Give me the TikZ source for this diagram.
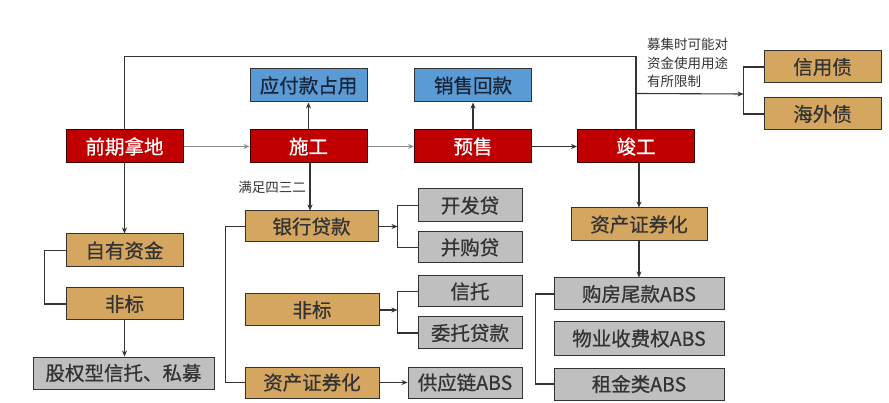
\documentclass[tikz,border=0pt]{standalone}
\usepackage{fontspec}
\setmainfont{Noto Sans CJK SC}
\newfontfamily\boxfont[FakeBold=0.7]{Noto Sans CJK SC}
\usetikzlibrary{arrows.meta,calc}
\definecolor{cred}{HTML}{C00000}
\definecolor{cblue}{HTML}{5B9BD5}
\definecolor{ctan}{HTML}{D5A660}
\definecolor{cgray}{HTML}{BFBFBF}
\definecolor{cline}{HTML}{333333}
\definecolor{cthin}{HTML}{8C8C8C}
\definecolor{cnavy}{HTML}{1A2438}
\begin{document}
\begin{tikzpicture}[x=1pt,y=-1pt,
  box/.style={draw=cline,line width=1pt,minimum height=33pt,inner sep=0pt,font=\boxfont\fontsize{19.5}{21}\selectfont},
  redbox/.style={box,fill=cred,text=white,minimum width=117pt,draw=black!70!cred},
  bluebox/.style={box,fill=cblue,text=cnavy,minimum width=117pt},
  tanbox/.style={box,fill=ctan,text=black!80},
  graybox/.style={box,fill=cgray,text=black!80},
  conn/.style={draw=cline,line width=1.1pt},
  arr/.style={conn,-{Stealth[length=6pt,width=5pt]}},
  thinarr/.style={draw=cthin,line width=0.8pt,-{Stealth[length=6pt,width=5pt]}},
  note/.style={inner sep=0pt,text=black!80,font=\fontsize{13.5}{18.5}\selectfont}
]
\useasboundingbox (0,0) rectangle (889,403);

% main row
\node[redbox] (qqnd) at (124.5,146.5) {前期拿地};
\node[redbox] (sg) at (308.5,146.5) {施工};
\node[redbox] (ys) at (473,146.5) {预售};
\node[redbox] (jg) at (636,146.5) {竣工};

% top row
\node[bluebox] (yfk) at (308.5,85.5) {应付款占用};
\node[bluebox] (xshk) at (473,85.5) {销售回款};
\node[tanbox,minimum width=117pt,minimum height=32pt] (xyz) at (822.5,67) {信用债};
\node[tanbox,minimum width=117pt,minimum height=32pt] (hwz) at (822.5,114) {海外债};

% left column
\node[tanbox,minimum width=117pt] (zyzj) at (124.5,250.5) {自有资金};
\node[tanbox,minimum width=117pt,minimum height=32pt] (fb1) at (124.5,304) {非标};
\node[graybox,minimum width=181pt,minimum height=32pt] (gqx) at (123.5,373) {股权型信托、私募};

% middle column
\node[tanbox,minimum width=133pt,minimum height=31pt] (yhdk) at (311.5,226.5) {银行贷款};
\node[tanbox,minimum width=134pt,minimum height=32pt] (fb2) at (312,310) {非标};
\node[tanbox,minimum width=134pt,minimum height=31pt] (zczq1) at (312,382.5) {资产证券化};

\node[graybox,minimum width=104pt] (kfd) at (470,205.5) {开发贷};
\node[graybox,minimum width=104pt,minimum height=31pt] (bgd) at (470,247.5) {并购贷};
\node[graybox,minimum width=104pt,minimum height=31pt] (xt) at (470,291.5) {信托};
\node[graybox,minimum width=104pt,minimum height=32pt] (wtdk) at (470,333) {委托贷款};
\node[graybox,minimum width=114pt,minimum height=31pt] (gyl) at (465,382.5) {供应链ABS};

% right column
\node[tanbox,minimum width=136pt] (zczq2) at (639,224.5) {资产证券化};
\node[graybox,minimum width=170pt,minimum height=32pt] (gfwk) at (639,294) {购房尾款ABS};
\node[graybox,minimum width=170pt] (wysf) at (639,338.5) {物业收费权ABS};
\node[graybox,minimum width=170pt,minimum height=32pt] (zjl) at (639,384) {租金类ABS};

% notes
\node[note,anchor=east] (mz) at (306,187) {满足四三二};
\node[note,anchor=west,align=left] (mj) at (647,63) {募集时可能对\\资金使用用途\\有所限制};

% connectors main row
\draw[thinarr] (qqnd.east) -- (sg.west);
\draw[thinarr] (sg.east) -- (ys.west);
\draw[arr] (ys.east) -- (jg.west);
\draw[arr] (sg.north) -- (yfk.south);
\draw[arr] (ys.north) -- (xshk.south);

% top loop
\coordinate (br0) at ($(xyz.west)+(-20,0)$);
\coordinate (jgtop) at (jg.north);
\draw[conn] (qqnd.north) -- ++(0,-73) -| (jg.north);
\draw[arr] ($(jgtop)+(0,-36)$) -- (br0 |- 0,94);
\draw[conn] (xyz.west) -- (br0) |- (hwz.west);

% left column
\draw[arr] (qqnd.south) -- (zyzj.north);
\draw[conn] (zyzj.west) -- ++(-21,0) |- (fb1.west);
\draw[arr] (fb1.south) -- (fb1.south |- gqx.north);

% middle column
\draw[arr] (sg.south -| 310,0) -- (yhdk.north -| 310,0);
\draw[conn] (yhdk.west) -- ++(-19,0) |- (zczq1.west);
\coordinate (br1) at ($(kfd.west)+(-20,0)$);
\draw[arr] (yhdk.east) -- (br1 |- yhdk.east);
\draw[conn] (kfd.west) -- (br1) |- (bgd.west);
\draw[arr] (fb2.east) -- (br1 |- fb2.east);
\draw[conn] (xt.west) -- (br1 |- xt.west) |- (wtdk.west);
\draw[arr] (zczq1.east) -- (gyl.west);

% right column
\draw[arr] (zczq2.north |- jg.south) -- (zczq2.north);
\draw[arr] (zczq2.south) -- (gfwk.north);
\draw[conn] (gfwk.west) -- ++(-18,0) |- (zjl.west);
\end{tikzpicture}
\end{document}
